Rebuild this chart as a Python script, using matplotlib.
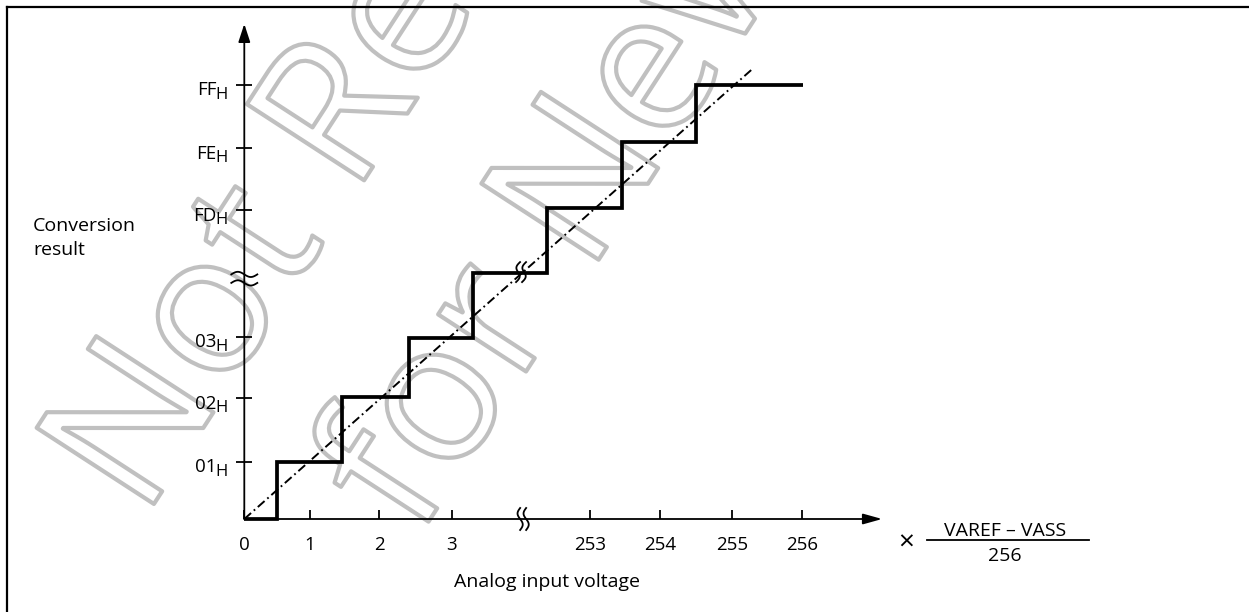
import numpy as np
import matplotlib
matplotlib.use("Agg")
import matplotlib.pyplot as plt
from matplotlib import patheffects as pe
from matplotlib.lines import Line2D

plt.rcParams['font.family'] = ['Open Sans', 'DejaVu Sans']
plt.rcParams['lines.scale_dashes'] = False

# ---------------- data (schematic axis units; the break compresses 4..252) -------------
x_tick_pos = [0, 0.943, 1.937, 2.975, 4.959, 5.963, 7.0, 7.996]
x_tick_labels = ['0', '1', '2', '3', '253', '254', '255', '256']
y_tick_pos = [0.919, 1.946, 2.94, 4.98, 5.98, 7.0]
y_tick_main = ['01', '02', '03', 'FD', 'FE', 'FF']
y_tick_sub = 'H'
step_edges = [0, 0.465, 1.406, 2.358, 3.285, 4.347, 5.414, 6.473, 8.01]
step_levels = [0, 0.919, 1.973, 2.91, 3.96, 5.01, 6.07, 7.0]
ideal_x = [0, 7.30]
ideal_y = [0, 7.265]
x_axis_end = 9.15
y_axis_end = 7.98
x_break = 4.0
y_break = 3.87
stair_break = (3.97, 3.98)

# ---------------- layout ----------------
W, H = 1249, 612
X0, XU = 244.3, 69.71     # pixel of x=0, pixels per unit
Y0, YU = 519.0, 62.04     # pixel of y=0, pixels per unit

def fx(px):
    return px / W

def fy(py):
    return 1 - py / H

fig = plt.figure(figsize=(W / 100, H / 100), dpi=100)
ax = fig.add_axes([0, 0, 1, 1])
ax.set_xlim(-X0 / XU, (W - X0) / XU)
ax.set_ylim(-(H - Y0) / YU, Y0 / YU)
ax.patch.set_visible(False)
for s in ax.spines.values():
    s.set_visible(False)
ax.spines['bottom'].set_position(('data', 0))
ax.spines['left'].set_position(('data', 0))

# ticks
ax.set_xticks(x_tick_pos, x_tick_labels)
ax.tick_params(axis='x', direction='in', length=6.5, width=1.3, pad=12.5,
               labelsize=13.5, colors='k')
ax.set_yticks(y_tick_pos, [''] * len(y_tick_pos))
ax.tick_params(axis='y', direction='inout', length=12.2, width=1.3, colors='k')

# axes with arrows
ax.annotate('', xy=(0, y_axis_end), xytext=(0, 0),
            arrowprops=dict(arrowstyle='-|>,head_length=1.1,head_width=0.36',
                            lw=1.3, color='k', shrinkA=0, shrinkB=0,
                            mutation_scale=10))
ax.annotate('', xy=(x_axis_end, 0), xytext=(0, 0),
            arrowprops=dict(arrowstyle='-|>,head_length=1.15,head_width=0.32',
                            lw=1.3, color='k', shrinkA=0, shrinkB=0,
                            mutation_scale=10))

# y tick labels with subscript
for pos, lab in zip(y_tick_pos, y_tick_main):
    ax.annotate(lab, xy=(0, pos), xytext=(-27.5, -10.5), textcoords='offset pixels',
                ha='right', va='baseline', fontsize=13.5)
    ax.annotate(y_tick_sub, xy=(0, pos), xytext=(-16.3, -14.0), textcoords='offset pixels',
                ha='right', va='baseline', fontsize=12)

# staircase and ideal line
st = ax.stairs(step_levels, edges=step_edges, baseline=None, color='k', lw=2.7, zorder=4)
st.set_joinstyle('miter')
st.set_capstyle('butt')
ax.plot(ideal_x, ideal_y, color='k', lw=1.4, linestyle=(0, (6.5, 2.6, 1.3, 2.6)), zorder=3)

# break marks
def px2d(xp, yp):
    return (np.asarray(xp) - X0) / XU, (Y0 - np.asarray(yp)) / YU

t = np.linspace(0, 1, 60)
# y-axis: two tildes
cx_p = X0
cy_p = Y0 - y_break * YU
for dy in (-4.5, 4.0):
    xp = cx_p + (t - 0.5) * 26
    yp = cy_p + dy - 2.6 * np.sin(2 * np.pi * t)
    ax.plot(*px2d(xp, yp), color='k', lw=1.3, zorder=5)
# x-axis: two S-curves
bx_p = X0 + x_break * XU
for dx in (-3.0, 3.0):
    yp = Y0 + (t - 0.5) * 22
    xp = bx_p + dx - 2.6 * np.sin(2 * np.pi * t)
    ax.plot(*px2d(xp, yp), color='k', lw=1.3, zorder=5)
# staircase break
sx_p = X0 + stair_break[0] * XU
sy_p = Y0 - stair_break[1] * YU
for dx in (-3.0, 3.0):
    yp = sy_p + (t - 0.5) * 20
    xp = sx_p + dx - 2.6 * np.sin(2 * np.pi * t) - (t - 0.5) * 4
    ax.plot(*px2d(xp, yp), color='k', lw=1.3, zorder=5)

# labels
fig.text(fx(33), fy(231), 'Conversion', fontsize=14, ha='left', va='baseline')
fig.text(fx(33), fy(255), 'result', fontsize=14, ha='left', va='baseline')
fig.text(fx(547), fy(586.7), 'Analog input voltage', fontsize=14, ha='center', va='baseline')
fig.text(fx(906), fy(544), '\u00d7', fontsize=20, ha='center', va='center')
fig.text(fx(1005), fy(536), 'VAREF \u2013 VASS', fontsize=14, ha='center', va='baseline')
fig.text(fx(1005), fy(560.7), '256', fontsize=14, ha='center', va='baseline')
fig.add_artist(Line2D([fx(927), fx(1089)], [fy(540), fy(540)], transform=fig.transFigure,
                      color='k', lw=1.3))

# frame (left and top)
fig.add_artist(Line2D([fx(7), fx(7)], [0, fy(7)], transform=fig.transFigure, color='k', lw=1.6))
fig.add_artist(Line2D([fx(7), 1], [fy(7), fy(7)], transform=fig.transFigure, color='k', lw=1.6))

# watermark
rot = 57
ang = np.deg2rad(rot)
along = np.array([np.cos(ang), -np.sin(ang)])
down = np.array([np.sin(ang), np.cos(ang)])
p1 = np.array([143.5, 520.0])
p2 = p1 + along * 139 + down * 250 + np.array([-12.0, 0.0])
wm_kw = dict(fontsize=141, rotation=rot, rotation_mode='anchor', ha='left', va='baseline',
             color='white', zorder=-1,
             path_effects=[pe.Stroke(linewidth=3.0, foreground='#c0c0c0')])
fig.text(fx(p1[0]), fy(p1[1]), 'Not Recommended', **wm_kw)
fig.text(fx(p2[0]), fy(p2[1]), 'for New Design', **wm_kw)

fig.savefig('out.png', dpi=100, facecolor='white')
